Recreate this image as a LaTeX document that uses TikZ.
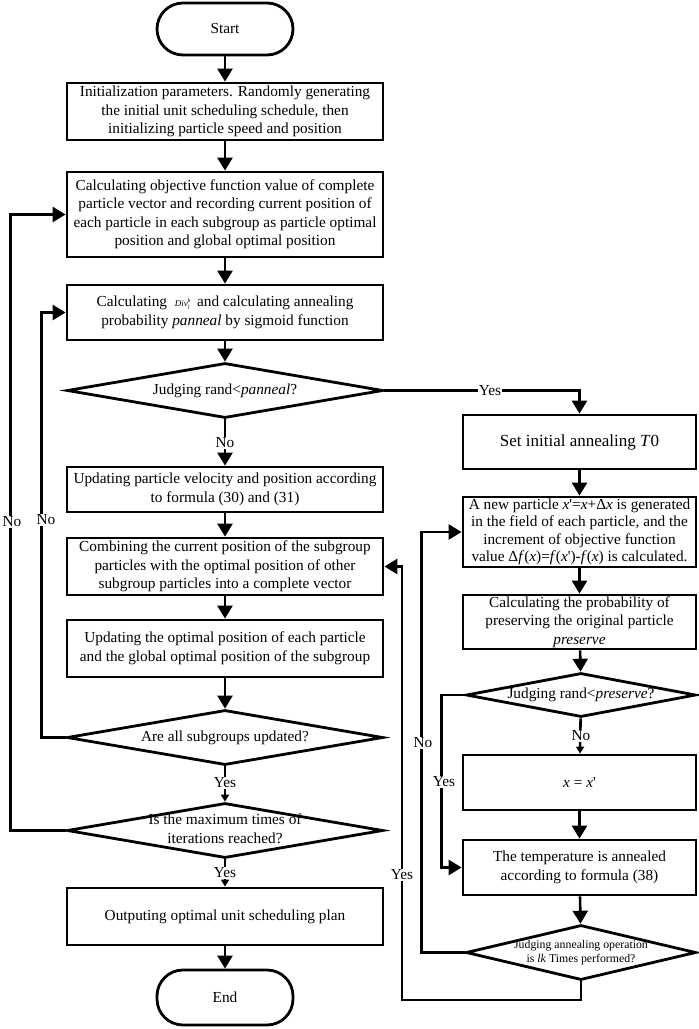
\documentclass[tikz,border=0pt]{standalone}
\usepackage{fontspec}
\setmainfont{Liberation Serif}
\usetikzlibrary{arrows.meta,shapes.geometric}
\newcommand{\dtext}[1]{\makebox[0pt]{\begin{tabular}{@{}c@{}}#1\end{tabular}}}
\newcommand{\pr}{\textquotesingle}
\newcommand{\divkl}{{\fontsize{9}{9}\selectfont\textit{Div}\makebox[0pt][l]{\raisebox{4pt}{\fontsize{6}{6}\selectfont\textit{k}}}\raisebox{-2.5pt}{\fontsize{6}{6}\selectfont\textit{l}}}}
\begin{document}
\begin{tikzpicture}[x=1pt,y=-1pt,
  every node/.style={font=\fontsize{15.3}{18.5}\selectfont},
  box/.style={draw,line width=2.8pt,minimum width=316pt,inner sep=0pt,align=center},
  rbox/.style={draw,line width=2.8pt,minimum width=233pt,inner sep=0pt,align=center},
  term/.style={draw,line width=2.8pt,minimum width=136pt,minimum height=52pt,rounded corners=26pt,inner sep=0pt},
  dia/.style={draw,diamond,line width=2.8pt,inner sep=0pt,minimum width=#1,minimum height=55pt},
  conn/.style={line width=2.6pt},
  big/.style={conn,-{Triangle[length=13pt,width=15pt]}},
  small/.style={conn,-{Triangle[length=7pt,width=8pt]}},
  lab/.style={fill=white,inner sep=1pt}
]
\useasboundingbox (0,0) rectangle (699,1029);
% left column
\node[term] (start) at (225,29) {Start};
\node[box,minimum height=57pt] (init) at (225,111.5) {Initialization parameters. Randomly generating\\ the initial unit scheduling schedule, then\\ initializing particle speed and position};
\node[box,minimum height=85pt] (obj) at (225,214.5) {Calculating objective function value of complete\\ particle vector and recording current position of\\ each particle in each subgroup as particle optimal\\ position and global optimal position};
\node[box,minimum height=55pt] (div) at (225,312.5) {Calculating\ \ \divkl\ \ and calculating annealing\\ probability \textit{panneal} by sigmoid function};
\node[dia=316pt] (d1) at (225,390.5) {\dtext{Judging rand<\textit{panneal}?}};
\node[box,minimum height=45pt] (upd) at (225,489.5) {Updating particle velocity and position according\\ to formula (30) and (31)};
\node[box,minimum height=57pt] (comb) at (225,566.5) {Combining the current position of the subgroup\\ particles with the optimal position of other\\ subgroup particles into a complete vector};
\node[box,minimum height=57pt] (opt) at (225,648.5) {Updating the optimal position of each particle\\ and the global optimal position of the subgroup};
\node[dia=316pt] (d2) at (225,737.5) {\dtext{Are all subgroups updated?}};
\node[dia=316pt] (d3) at (225,830.5) {\dtext{Is the maximum times of\\ iterations reached?}};
\node[box,minimum height=57pt] (out) at (225,916.5) {Outputing optimal unit scheduling plan};
\node[term,minimum height=55pt] (end) at (225,997.5) {End};
% right column
\node[rbox,minimum height=54pt,font=\fontsize{17}{18.5}\selectfont] (set) at (579.5,442) {Set initial annealing \textit{T}0};
\node[rbox,minimum height=70pt,font=\fontsize{15.3}{17.5}\selectfont] (np) at (579.5,532) {A new particle \textit{x}\pr=\textit{x}+Δ\textit{x} is generated\\ in the field of each particle, and the\\ increment of objective function\\ value Δ\textit{f}(\textit{x})=\textit{f}(\textit{x}\pr)-\textit{f}(\textit{x}) is calculated.};
\node[rbox,minimum height=54pt] (pres) at (579.5,622) {Calculating the probability of\\ preserving the original particle\\ \textit{preserve}};
\node[dia=230pt,minimum height=44pt] (d4) at (581,695) {\dtext{Judging rand<\textit{preserve}?}};
\node[rbox,minimum height=55pt] (xx) at (579.5,782.5) {\textit{x} = \textit{x}\pr};
\node[rbox,minimum height=55pt] (temp) at (579.5,867.5) {The temperature is annealed\\ according to formula (38)};
\node[dia=230pt,font=\fontsize{11.8}{14}\selectfont] (d5) at (581,952.5) {\dtext{Judging annealing operation\\ is \textit{lk} Times performed?}};
% coordinates
\coordinate (b1) at (581,1000);
\coordinate (b2) at (402,1000);
% main flow
\draw[big] (start) -- (init);
\draw[big] (init) -- (obj);
\draw[big] (obj) -- (div);
\draw[big] (div) -- (d1);
\draw[big] (d1) -- (upd);
\draw[big] (upd) -- (comb);
\draw[big] (comb) -- (opt);
\draw[big] (opt) -- (d2);
\draw[small] (d2) -- (d3);
\draw[small] (d3) -- (out);
\draw[big] (out) -- (end);
\draw[big] (d2.west) -- ++(-24,0) |- (div.west);
\draw[big] (d3.west) -- ++(-55,0) |- (obj.west);
\draw[big] (d1.east) -| (set.north);
\draw[big] (set) -- (np);
\draw[big] (np) -- (pres);
\draw[big] (pres) -- (d4);
\draw[small] (d4) -- (xx);
\draw[big] (xx) -- (temp);
\draw[big] (temp) -- (d5);
\draw[big] (d4.west) -- ++(-23,0) |- (temp.west);
\draw[big] (d5.west) -- ++(-43,0) |- (np.west);
\draw[big] (d5.south) -- (b1) -- (b2) |- (comb.east);
% labels
\node[lab] (l1) at (225,443) {No};
\node[lab] (l2) at (225,783) {Yes};
\node[lab] (l3) at (225,873) {Yes};
\node[lab] (l4) at (12,522) {No};
\node[lab] (l5) at (46,520) {No};
\node[lab] (l6) at (490,391) {Yes};
\node[lab] (l7) at (581,736) {No};
\node[lab] (l8) at (423,743) {No};
\node[lab] (l9) at (444,782) {Yes};
\node[lab] (l10) at (402,875) {Yes};
\end{tikzpicture}
\end{document}
